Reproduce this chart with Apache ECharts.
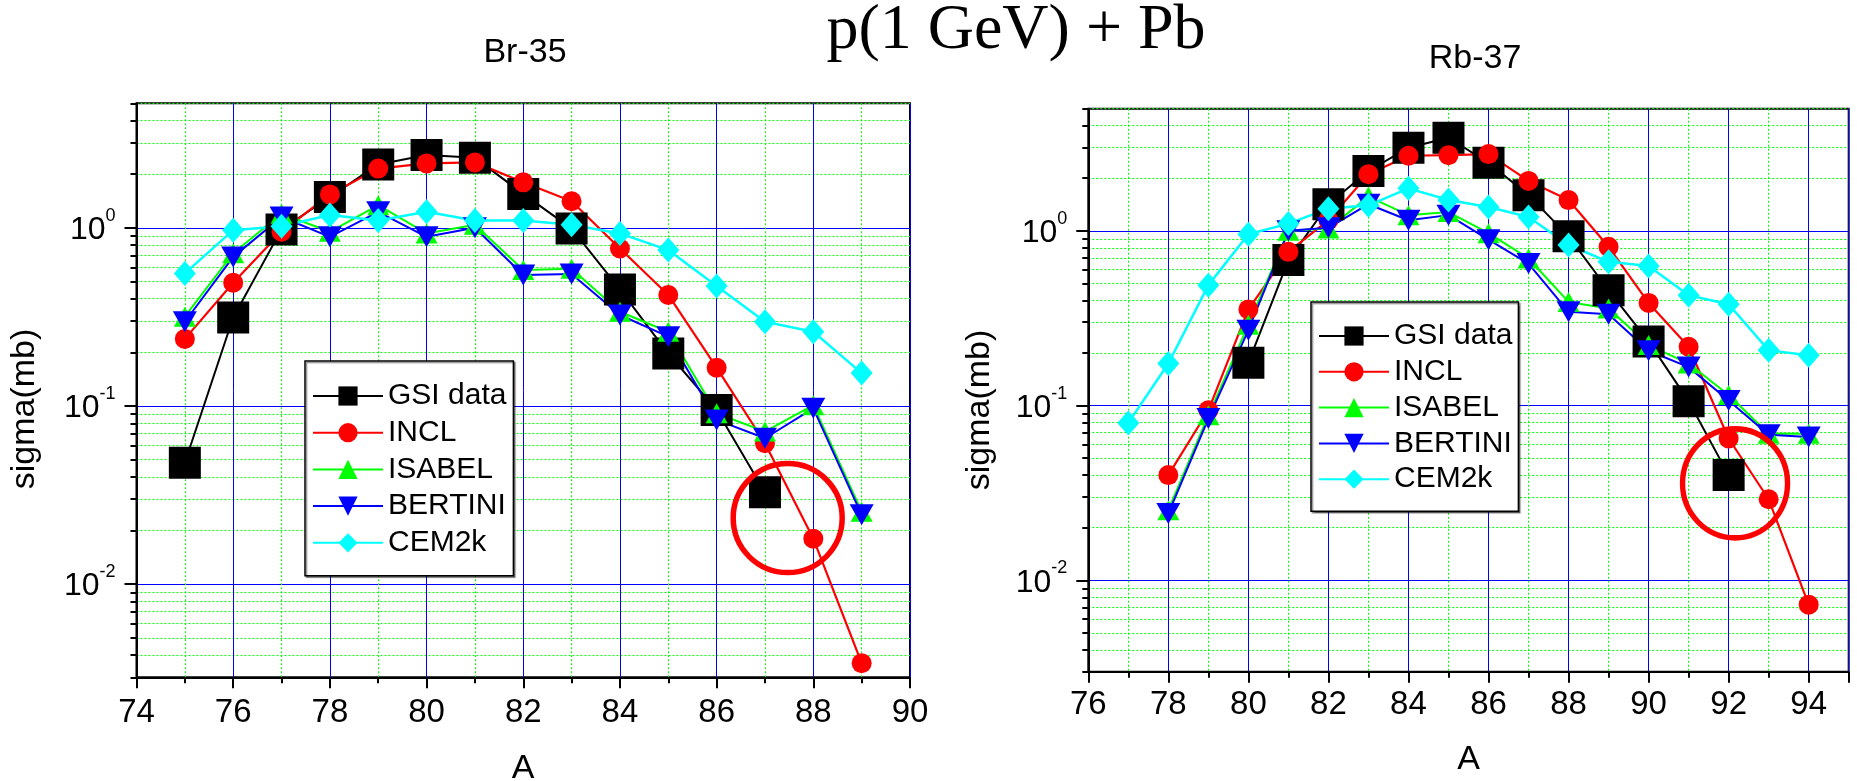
<!DOCTYPE html>
<html>
<head>
<meta charset="utf-8">
<script src="https://cdn.jsdelivr.net/npm/echarts@6/dist/echarts.min.js"></script>
<style>
html,body{margin:0;padding:0;background:#ffffff;}
#chart{width:1857px;height:781px;}
</style>
</head>
<body>
<div id="chart"></div>
<script>
// ---------------- texts ----------------
const mainTitle = 'p(1 GeV) + Pb';
const panelTitles = ['Br-35', 'Rb-37'];
const xAxisName = 'A';
const yAxisName = 'sigma(mb)';
const seriesNames = ['GSI data', 'INCL', 'ISABEL', 'BERTINI', 'CEM2k'];

// ---------------- tick values ----------------
const yMajorTicks = [0.01, 0.1, 1];
const yMinorTicks = [0.003, 0.004, 0.005, 0.006, 0.007, 0.008, 0.009,
                     0.02, 0.03, 0.04, 0.05, 0.06, 0.07, 0.08, 0.09,
                     0.2, 0.3, 0.4, 0.5, 0.6, 0.7, 0.8, 0.9,
                     2, 3, 4, 5];
const yRange = [0.003, 5];
const brXRange = [74, 90];
const rbXRange = [76, 95];

// ---------------- Br-35 data ----------------
const brA       = [75, 76, 77, 78, 79, 80, 81, 82, 83, 84, 85, 86, 87, 88, 89];
const brGSI     = [0.048, 0.314, 0.98, 1.49, 2.27, 2.56, 2.47, 1.55, 0.99, 0.451, 0.197, 0.095, 0.0328, null, null];
const brINCL    = [0.238, 0.492, 0.95, 1.54, 2.15, 2.30, 2.33, 1.80, 1.41, 0.766, 0.42, 0.164, 0.0618, 0.0180, 0.0036];
const brISABEL  = [0.317, 0.72, 1.20, 0.95, 1.34, 0.93, 1.04, 0.58, 0.59, 0.338, 0.261, 0.091, 0.0718, 0.101, 0.0255];
const brBERTINI = [0.297, 0.687, 1.15, 0.89, 1.23, 0.89, 1.00, 0.543, 0.55, 0.324, 0.245, 0.0835, 0.0659, 0.097, 0.0245];
const brCEM2k   = [0.555, 0.97, 1.02, 1.18, 1.10, 1.23, 1.10, 1.10, 1.04, 0.93, 0.75, 0.471, 0.297, 0.261, 0.153];
const brHighlight = [[87.47, 0.0235]];

// ---------------- Rb-37 data ----------------
const rbA       = [77, 78, 79, 80, 81, 82, 83, 84, 85, 86, 87, 88, 89, 90, 91, 92, 93, 94];
const rbGSI     = [null, null, null, 0.176, 0.68, 1.42, 2.20, 2.99, 3.41, 2.45, 1.60, 0.93, 0.457, 0.233, 0.106, 0.040, null, null];
const rbINCL    = [null, 0.040, 0.094, 0.355, 0.758, 1.15, 2.11, 2.69, 2.71, 2.75, 1.93, 1.50, 0.81, 0.387, 0.217, 0.0648, 0.0291, 0.00726];
const rbISABEL  = [null, 0.0252, 0.088, 0.29, 1.00, 1.03, 1.57, 1.23, 1.28, 0.97, 0.695, 0.392, 0.359, 0.222, 0.174, 0.115, 0.069, 0.069];
const rbBERTINI = [null, 0.0241, 0.0843, 0.27, 1.00, 1.04, 1.42, 1.15, 1.23, 0.89, 0.65, 0.344, 0.333, 0.206, 0.166, 0.107, 0.068, 0.066];
const rbCEM2k   = [0.0796, 0.174, 0.489, 0.957, 1.10, 1.34, 1.40, 1.75, 1.50, 1.37, 1.20, 0.83, 0.665, 0.63, 0.428, 0.38, 0.207, 0.194];
const rbHighlight = [[92.16, 0.0359]];

// ---------------- styles ----------------
const SANS = '"Liberation Sans", Arial, sans-serif';
const SERIF = '"Liberation Serif", "Times New Roman", serif';
const seriesStyles = [
  { symbol: 'rect',     size: 32,       color: '#000000', width: 2,   rotate: 0 },
  { symbol: 'circle',   size: 20,       color: '#ff0000', width: 2.2, rotate: 0 },
  { symbol: 'triangle', size: [22, 20], color: '#00ff00', width: 2,   rotate: 0 },
  { symbol: 'triangle', size: [24, 21], color: '#0000ff', width: 2,   rotate: 180 },
  { symbol: 'diamond',  size: [22, 25], color: '#00ffff', width: 2.5, rotate: 0 }
];

function pairs(xs, ys) {
  return xs.map((x, i) => [x, ys[i]]).filter(p => p[1] !== null && p[1] !== undefined);
}

function makeSeries(xs, valueLists, xIdx, yIdx) {
  return valueLists.map((vals, k) => {
    const st = seriesStyles[k];
    return {
      name: seriesNames[k],
      type: 'line',
      xAxisIndex: xIdx,
      yAxisIndex: yIdx,
      data: pairs(xs, vals),
      symbol: st.symbol,
      symbolSize: st.size,
      symbolRotate: st.rotate,
      showSymbol: true,
      itemStyle: { color: st.color, borderWidth: 0, opacity: 1 },
      lineStyle: { color: st.color, width: st.width, opacity: 1 },
      emphasis: { disabled: true },
      z: 3
    };
  });
}

function highlightSeries(data, xIdx, yIdx, size) {
  return {
    name: 'highlight',
    type: 'scatter',
    xAxisIndex: xIdx,
    yAxisIndex: yIdx,
    data: data,
    symbol: 'circle',
    symbolSize: size,
    silent: true,
    itemStyle: { color: 'rgba(0,0,0,0)', borderColor: '#ff0000', borderWidth: 5.5, opacity: 1 },
    emphasis: { disabled: true },
    z: 6
  };
}

function xAxisDef(gridIndex, range, margin) {
  return {
    type: 'value',
    gridIndex: gridIndex,
    min: range[0],
    max: range[1],
    interval: 2,
    axisLine: { show: true, lineStyle: { color: '#000', width: 2 } },
    axisTick: { show: true, inside: false, length: 11, lineStyle: { color: '#000', width: 2 } },
    minorTick: { show: true, splitNumber: 2, length: 6, lineStyle: { color: '#000', width: 2 } },
    splitLine: { show: true, lineStyle: { color: '#0000ff', width: 1 } },
    minorSplitLine: { show: true, lineStyle: { color: '#00ff00', width: 1, type: [2, 2] } },
    axisLabel: { show: true, fontSize: 33, fontFamily: SANS, color: '#000', margin: margin, showMaxLabel: range[1] % 2 === 0 }
  };
}

function yAxisDefs(gridIndex) {
  return [
    {
      type: 'log',
      logBase: 10,
      gridIndex: gridIndex,
      position: 'left',
      min: yRange[0],
      max: yRange[1],
      axisLine: { show: true, lineStyle: { color: '#000', width: 2 } },
      axisTick: { show: true, inside: false, length: 12, lineStyle: { color: '#000', width: 2 }, customValues: yMajorTicks },
      splitLine: { show: true, lineStyle: { color: '#0000ff', width: 1 } },
      axisLabel: {
        show: true,
        customValues: yMajorTicks,
        margin: 21,
        padding: [5, 0, 0, 0],
        formatter: function (v) {
          const e = Math.round(Math.log10(v));
          return '{b|10}{s|' + e + '}';
        },
        rich: {
          b: { fontSize: 32, lineHeight: 47, fontFamily: SANS, color: '#000' },
          s: { fontSize: 18, verticalAlign: 'top', fontFamily: SANS, color: '#000' }
        }
      }
    },
    {
      type: 'log',
      logBase: 10,
      gridIndex: gridIndex,
      position: 'left',
      min: yRange[0],
      max: yRange[1],
      axisLine: { show: false },
      axisTick: { show: true, inside: false, length: 6, lineStyle: { color: '#000', width: 2 }, customValues: yMinorTicks },
      splitLine: { show: true, lineStyle: { color: '#00ff00', width: 1, type: [2, 2] } },
      axisLabel: { show: false }
    }
  ];
}

function legendDef(left, top, pad, gap) {
  return {
    data: seriesNames,
    orient: 'vertical',
    left: left,
    top: top,
    padding: pad,
    itemGap: gap,
    itemWidth: 70,
    itemHeight: 24,
    backgroundColor: '#ffffff',
    borderColor: '#000000',
    borderWidth: 1.5,
    shadowColor: 'rgba(0,0,0,0.45)',
    shadowBlur: 1,
    shadowOffsetX: 1.5,
    shadowOffsetY: 1.5,
    selectedMode: false,
    textStyle: { fontSize: 30, fontFamily: SANS, color: '#000', lineHeight: 30 },
    z: 10
  };
}

const chart = echarts.init(document.getElementById('chart'), null, { renderer: 'canvas' });

const option = {
  animation: false,
  backgroundColor: '#ffffff',
  textStyle: { fontFamily: SANS },
  grid: [
    { left: 136.5, top: 103.3, width: 773.5, height: 574, show: true, borderColor: '#000', borderWidth: 2, backgroundColor: 'rgba(0,0,0,0)', containLabel: false, outerBoundsMode: 'none' },
    { left: 1088.3, top: 108.7, width: 760.4, height: 563, show: true, borderColor: '#000', borderWidth: 2, backgroundColor: 'rgba(0,0,0,0)', containLabel: false, outerBoundsMode: 'none' }
  ],
  xAxis: [ xAxisDef(0, brXRange, 19), xAxisDef(1, rbXRange, 17) ],
  yAxis: yAxisDefs(0).concat(yAxisDefs(1)),
  legend: [
    legendDef(305, 361, [20, 7, 18, 7], 6.7),
    legendDef(1311, 302, [19, 6, 17, 7], 5.8)
  ],
  series: []
    .concat(makeSeries(brA, [brGSI, brINCL, brISABEL, brBERTINI, brCEM2k], 0, 0))
    .concat([highlightSeries(brHighlight, 0, 0, 109)])
    .concat(makeSeries(rbA, [rbGSI, rbINCL, rbISABEL, rbBERTINI, rbCEM2k], 1, 2))
    .concat([highlightSeries(rbHighlight, 1, 2, [105, 109])]),
  graphic: [
    { type: 'text', x: 1016, y: 31.4, silent: true,
      style: { text: mainTitle, fontSize: 64, fontFamily: SERIF, fill: '#000', align: 'center', verticalAlign: 'middle' } },
    { type: 'text', x: 525, y: 53, silent: true,
      style: { text: panelTitles[0], fontSize: 34, fontFamily: SANS, fill: '#000', align: 'center', verticalAlign: 'middle' } },
    { type: 'text', x: 1475, y: 58.7, silent: true,
      style: { text: panelTitles[1], fontSize: 34, fontFamily: SANS, fill: '#000', align: 'center', verticalAlign: 'middle' } },
    { type: 'text', x: 24.5, y: 409, rotation: Math.PI / 2, silent: true,
      style: { text: yAxisName, fontSize: 34, fontFamily: SANS, fill: '#000', align: 'center', verticalAlign: 'middle' } },
    { type: 'text', x: 979.5, y: 410, rotation: Math.PI / 2, silent: true,
      style: { text: yAxisName, fontSize: 34, fontFamily: SANS, fill: '#000', align: 'center', verticalAlign: 'middle' } },
    { type: 'text', x: 523, y: 768.5, silent: true,
      style: { text: xAxisName, fontSize: 34, fontFamily: SANS, fill: '#000', align: 'center', verticalAlign: 'middle' } },
    { type: 'text', x: 1468.5, y: 759.5, silent: true,
      style: { text: xAxisName, fontSize: 34, fontFamily: SANS, fill: '#000', align: 'center', verticalAlign: 'middle' } }
  ]
};

chart.setOption(option);
</script>
</body>
</html>
